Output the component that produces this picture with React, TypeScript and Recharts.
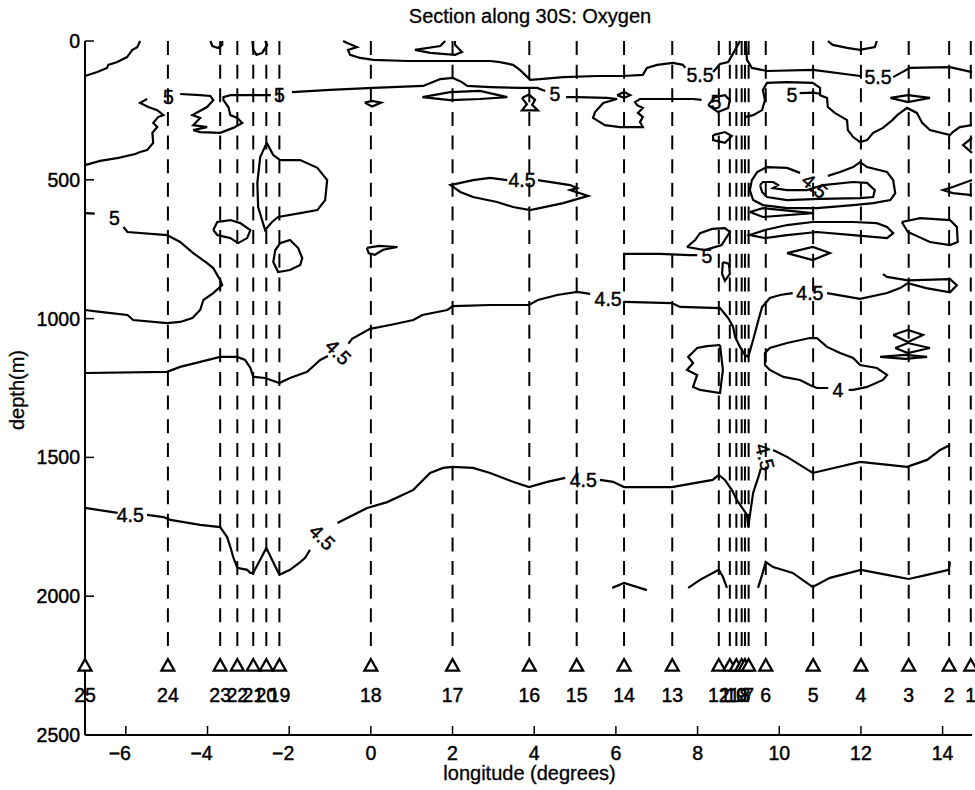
import React from 'react';
import { ComposedChart, Line, Scatter, XAxis, YAxis } from 'recharts';

type P = [number, number];
const FONT = '"Liberation Sans", Arial, Helvetica, sans-serif';

const X_TICKS = [-6, -4, -2, 0, 2, 4, 6, 8, 10, 12, 14];
const Y_TICKS = [0, 500, 1000, 1500, 2000, 2500];
const LON_DOMAIN: [number, number] = [-7, 14.72];
const DEPTH_DOMAIN: [number, number] = [0, 2500];

const stationNumbers = [25, 24, 23, 22, 21, 20, 19, 18, 17, 16, 15, 14, 13, 12, 11, 10, 9, 8, 7, 6, 5, 4, 3, 2, 1];
const stationLons = [-7.0, -4.97, -3.69, -3.27, -2.88, -2.56, -2.24, 0.0, 2.0, 3.88, 5.04, 6.2, 7.38, 8.52, 8.79, 8.95, 9.08, 9.16, 9.25, 9.67, 10.83, 12.0, 13.17, 14.16, 14.69];
const STATION_LINE_TOP = 0;
const STATION_LINE_BOTTOM = 2200;
const TRIANGLE_DEPTH = 2250;
const STATION_LABEL_DEPTH = 2355;

// ---- contour lines (lon, depth) ----
const c55TopLeft: P[] = [[-7.0, 126], [-6.7, 112], [-6.46, 97], [-6.43, 86], [-6.21, 76], [-5.97, 58], [-5.84, 32], [-5.72, 22], [-5.65, 0]];
const c5LeftA: P[] = [[-7.0, 447], [-6.63, 432], [-6.18, 421], [-5.77, 407], [-5.65, 400], [-5.48, 393], [-5.33, 367], [-5.35, 331], [-5.23, 310], [-5.33, 295], [-5.21, 274], [-5.08, 267], [-5.23, 249], [-5.45, 238], [-5.65, 223], [-5.48, 209]];
const c5LeftB: P[] = [[-4.67, 191], [-4.18, 195], [-3.93, 198], [-3.86, 213], [-4.01, 238], [-4.37, 267], [-4.18, 277], [-4.35, 303], [-4.01, 310], [-4.35, 321], [-4.18, 328], [-3.69, 331], [-3.37, 313], [-3.15, 295], [-3.27, 277], [-3.44, 267], [-3.49, 238], [-3.61, 213], [-3.61, 202], [-3.44, 195], [-2.45, 195]];
const c5MidA: P[] = [[-1.93, 184], [-1.0, 176], [0.06, 169], [1.28, 162], [1.52, 148], [1.7, 137], [2.01, 133], [2.23, 148], [2.36, 162], [2.92, 166], [3.65, 169], [4.07, 169], [4.27, 180]];
const c5MidB: P[] = [[4.78, 202], [5.05, 202], [5.78, 205], [6.03, 209], [5.69, 223], [5.49, 256], [5.44, 277], [5.73, 303], [6.1, 310], [6.42, 310], [6.66, 310], [6.59, 292], [6.66, 274], [6.54, 259], [6.66, 241], [6.52, 231], [6.47, 220], [6.59, 209], [7.25, 209], [7.89, 209], [8.1, 212]];
const c5LowLeftA: P[] = [[-7.0, 620], [-6.76, 622]];
const c5LowLeftB: P[] = [[-6.06, 670], [-5.96, 688], [-4.99, 699], [-4.67, 724], [-4.35, 764], [-4.01, 800], [-3.86, 818], [-3.69, 861], [-3.64, 879], [-3.86, 908], [-4.1, 933], [-4.18, 969], [-4.37, 998], [-4.67, 1012], [-4.99, 1016], [-5.82, 1005], [-5.96, 987], [-6.63, 976], [-7.0, 969]];
const blobSt23: P[] = [[-3.86, 681], [-3.76, 652], [-3.44, 645], [-3.2, 656], [-2.95, 681], [-3.03, 710], [-3.25, 728], [-3.44, 710], [-3.76, 699], [-3.86, 681]];
const lensSt20: P[] = [[-2.55, 367], [-2.39, 411], [-2.22, 429], [-1.73, 429], [-1.31, 457], [-1.07, 501], [-1.12, 573], [-1.31, 609], [-1.73, 620], [-2.27, 634], [-2.42, 652], [-2.59, 681], [-2.76, 598], [-2.78, 511], [-2.71, 418], [-2.55, 367]];
const heartSt19: P[] = [[-2.22, 728], [-1.98, 717], [-1.78, 746], [-1.68, 782], [-1.73, 807], [-1.98, 825], [-2.27, 832], [-2.39, 796], [-2.34, 753], [-2.22, 728]];
const smallSt18a: P[] = [[-0.15, 222], [0.03, 216], [0.25, 222], [0.03, 236], [-0.15, 222]];
const smallSt18b: P[] = [[-0.1, 745], [0.2, 738], [0.65, 742], [0.3, 752], [0.1, 770], [-0.05, 765], [-0.1, 745]];
const topLoopSt21: P[] = [[-2.9, 0], [-2.88, 32], [-2.8, 50], [-2.66, 43], [-2.54, 14], [-2.59, 0]];
const topLoopSt23: P[] = [[-3.93, 0], [-3.88, 18], [-3.74, 25], [-3.64, 14], [-3.64, 0]];
const c55A: P[] = [[-0.68, 0], [-0.58, 7], [-0.34, 22], [-0.56, 32], [-0.51, 50], [-0.26, 61], [0.06, 68], [0.89, 72], [1.7, 72], [2.5, 72], [2.92, 72], [3.16, 76], [3.48, 86], [3.65, 104], [3.9, 140], [4.14, 137], [4.71, 130], [5.54, 126], [6.17, 126], [6.66, 122], [6.76, 97], [7.01, 86], [7.4, 79], [7.64, 86], [7.7, 97]];
const c55A2: P[] = [[8.38, 112], [8.55, 83], [8.75, 76], [8.92, 32], [9.04, 0]];
const c55B1: P[] = [[9.18, 0], [9.21, 68], [9.33, 97], [9.7, 108], [10.83, 104], [11.98, 126]];
const c55B2: P[] = [[12.79, 130], [13.01, 112], [13.2, 97], [14.18, 94], [14.72, 112]];
const topLoopSt17: P[] = [[1.82, 0], [1.7, 18], [1.08, 32], [1.45, 43], [2.06, 50], [2.23, 40], [2.06, 14], [2.06, 0]];
const topLoopSt4: P[] = [[11.19, 0], [11.31, 14], [11.66, 25], [11.97, 32], [12.34, 22], [12.39, 0]];
const lensSt17: P[] = [[1.26, 202], [1.94, 184], [2.67, 180], [3.34, 202], [2.67, 209], [1.94, 213], [1.26, 202]];
const smallSt16: P[] = [[3.7, 205], [3.87, 193], [4.02, 212], [3.95, 230], [4.09, 250], [3.7, 250], [3.82, 228], [3.7, 205]];
const smallSt14: P[] = [[6.03, 195], [6.2, 184], [6.35, 195], [6.2, 205], [6.03, 195]];
const lens45: P[] = [[4.09, 501], [4.88, 519], [5.05, 530], [4.88, 537], [5.32, 558], [4.71, 584], [3.9, 609], [3.48, 598], [3.09, 580], [2.5, 562], [2.19, 544], [1.95, 519], [2.5, 501], [2.92, 493], [3.34, 501]];
const c5At255: P[] = [[6.2, 825], [6.2, 767], [7.08, 767], [7.81, 771], [7.99, 771]];
const waveSt12: P[] = [[7.74, 742], [7.94, 717], [8.06, 692], [8.36, 677], [8.67, 674], [8.79, 688], [8.59, 735], [8.18, 753], [7.74, 742]];
const zigSt12: P[] = [[8.55, 1095], [8.23, 1099], [7.99, 1106], [7.77, 1138], [7.89, 1160], [7.74, 1185], [7.99, 1203], [7.89, 1246], [8.06, 1257], [8.55, 1268], [8.62, 1185], [8.55, 1095]];
const c45UpA: P[] = [[-7.0, 1196], [-4.99, 1192], [-4.67, 1174], [-4.18, 1156], [-3.69, 1138], [-3.27, 1138], [-3.08, 1149], [-2.95, 1178], [-2.88, 1210], [-2.59, 1214], [-2.24, 1232], [-1.98, 1214], [-1.56, 1192], [-1.24, 1149], [-1.05, 1135]];
const c45UpB: P[] = [[-0.55, 1090], [-0.46, 1073], [-0.02, 1037], [0.47, 1023], [1.04, 1005], [1.26, 987], [1.87, 969], [2.01, 955], [2.92, 951], [3.87, 951], [4.09, 933], [4.56, 915], [5.05, 904], [5.37, 911]];
const c45UpC: P[] = [[6.2, 940], [7.37, 944], [7.57, 958], [8.55, 962], [8.75, 998], [8.87, 1030], [8.92, 1066], [9.04, 1102], [9.16, 1131], [9.24, 1138], [9.36, 1077], [9.49, 1005], [9.58, 958], [9.77, 926], [10.02, 915], [10.33, 908]];
const c45UpD: P[] = [[11.17, 908], [11.98, 929], [12.64, 908], [12.96, 890], [13.15, 872], [13.6, 890], [14.18, 905], [14.35, 880], [14.18, 858], [13.15, 862], [12.64, 850], [12.54, 840]];
const c45LowA: P[] = [[-7.0, 1682], [-6.2, 1700]];
const c45LowB: P[] = [[-5.48, 1707], [-5.08, 1715], [-4.91, 1725], [-4.18, 1743], [-3.69, 1751], [-3.52, 1787], [-3.44, 1823], [-3.37, 1859], [-3.27, 1898], [-3.03, 1905], [-2.95, 1916], [-2.88, 1916], [-2.71, 1869], [-2.56, 1826], [-2.42, 1869], [-2.24, 1923], [-1.98, 1905], [-1.73, 1877], [-1.61, 1862], [-1.49, 1833]];
const c45LowC: P[] = [[-0.82, 1736], [-0.09, 1682], [0.4, 1661], [1.04, 1617], [1.45, 1556], [1.77, 1538], [2.01, 1534], [2.5, 1538], [2.92, 1556], [3.48, 1588], [3.87, 1607], [4.32, 1588], [4.76, 1574]];
const c45LowD: P[] = [[5.61, 1581], [5.93, 1588], [6.2, 1607], [7.37, 1607], [8.37, 1581], [8.52, 1563], [8.67, 1581], [8.79, 1607], [8.84, 1617], [8.96, 1653], [9.21, 1707], [9.24, 1751], [9.36, 1628], [9.49, 1570], [9.55, 1540]];
const c45LowE: P[] = [[9.85, 1473], [10.19, 1498], [10.82, 1556], [11.98, 1516], [13.13, 1534], [13.62, 1509], [13.94, 1473], [14.18, 1455]];
const deepSt14: P[] = [[5.91, 1970], [6.2, 1952], [6.76, 1978]];
const deepSt12: P[] = [[7.77, 1970], [8.06, 1941], [8.52, 1905], [8.62, 1930], [8.72, 1970]];
const deepEast: P[] = [[9.48, 1970], [9.58, 1923], [9.67, 1877], [9.85, 1895], [10.33, 1916], [10.82, 1967], [11.24, 1934], [12.0, 1905], [12.64, 1923], [13.17, 1938], [13.62, 1923], [14.15, 1905], [14.18, 1877]];
const loop4: P[] = [[11.2, 1250], [10.92, 1250], [10.75, 1239], [10.51, 1221], [10.1, 1210], [9.77, 1185], [9.65, 1167], [9.65, 1124], [9.77, 1106], [10.19, 1088], [10.75, 1070], [10.92, 1070], [11.17, 1102], [11.49, 1124], [11.81, 1142], [11.98, 1167], [12.39, 1178], [12.64, 1203], [12.54, 1221], [12.15, 1246], [11.81, 1257], [11.7, 1257]];
const hg1: P[] = [[12.79, 1059], [13.15, 1041], [13.52, 1059], [13.15, 1084], [12.79, 1059]];
const hg2: P[] = [[12.84, 1106], [13.15, 1088], [13.69, 1106], [13.15, 1124], [12.84, 1106]];
const hg3: P[] = [[12.47, 1138], [13.08, 1131], [13.62, 1138], [13.08, 1145], [12.47, 1138]];
const outerEast: P[] = [[11.19, 486], [11.49, 472], [11.81, 454], [11.98, 436], [12.15, 454], [12.64, 472], [12.79, 501], [12.84, 548], [12.72, 573], [12.3, 584], [11.81, 591], [10.92, 602], [10.19, 602], [9.6, 591], [9.36, 573], [9.28, 537], [9.33, 501], [9.46, 472], [9.7, 454], [10.19, 457], [10.51, 475]];
const innerEast: P[] = [[9.53, 519], [9.6, 508], [9.85, 508], [9.97, 519], [9.85, 530], [10.19, 537], [10.68, 537], [11.07, 519], [11.81, 508], [12.15, 511], [12.34, 537], [12.3, 562], [11.98, 566], [11.0, 569], [10.19, 573], [9.7, 562], [9.58, 544], [9.53, 519]];
const lensE1: P[] = [[9.28, 616], [9.6, 602], [10.82, 620], [9.6, 634], [9.28, 616]];
const lensE2: P[] = [[9.65, 681], [10.19, 663], [10.82, 652], [11.81, 652], [12.39, 656], [12.64, 670], [12.79, 692], [12.64, 710], [11.81, 699], [10.92, 688], [10.19, 699], [9.65, 710], [9.28, 699], [9.65, 681]];
const lensSt5: P[] = [[10.19, 764], [10.82, 742], [11.24, 764], [10.82, 789], [10.19, 764]];
const loopSt2: P[] = [[13.0, 652], [13.45, 638], [14.18, 645], [14.35, 670], [14.37, 724], [14.18, 735], [13.69, 724], [13.15, 688], [13.0, 652]];
const rightEdgeA: P[] = [[14.72, 349], [14.5, 375], [14.72, 403]];
const rightEdgeB: P[] = [[14.72, 501], [14.25, 526], [14.01, 537], [14.25, 548], [14.72, 555]];
const c5East: P[] = [[9.16, 274], [9.36, 267], [9.58, 249], [9.65, 213], [9.6, 176], [9.7, 151], [10.19, 148], [10.82, 151], [11.0, 169], [11.0, 195], [11.17, 205], [11.19, 238], [11.36, 259], [11.66, 285], [11.68, 321], [11.81, 346], [11.98, 364], [12.15, 357], [12.3, 331], [12.54, 313], [12.77, 285], [12.89, 267], [13.13, 241], [13.37, 259], [13.5, 295], [13.69, 321], [14.18, 339], [14.25, 328], [14.42, 310], [14.72, 303]];
const c5EastStub: P[] = [[10.5, 188], [10.83, 186], [11.0, 190]];
const lensSt3: P[] = [[12.72, 205], [13.15, 195], [13.69, 205], [13.15, 220], [12.72, 205]];
const messA: P[] = [[8.26, 231], [8.43, 202], [8.67, 195], [8.79, 213], [8.75, 241], [8.5, 256], [8.26, 231]];
const messB: P[] = [[8.38, 339], [8.67, 328], [8.84, 342], [8.67, 367], [8.38, 357], [8.38, 339]];
const messC: P[] = [[8.62, 796], [8.77, 803], [8.79, 839], [8.67, 864], [8.6, 839], [8.62, 796]];

const contours: P[][] = [
  c55TopLeft, c5LeftA, c5LeftB, c5MidA, c5MidB, c5LowLeftA, c5LowLeftB, blobSt23, lensSt20, heartSt19,
  smallSt18a, smallSt18b, topLoopSt21, topLoopSt23, c55A, c55A2, c55B1, c55B2, topLoopSt17, topLoopSt4,
  lensSt17, smallSt16, smallSt14, lens45, c5At255, waveSt12, zigSt12, c45UpA, c45UpB, c45UpC, c45UpD,
  c45LowA, c45LowB, c45LowC, c45LowD, c45LowE, deepSt14, deepSt12, deepEast, loop4, hg1, hg2, hg3,
  outerEast, innerEast, lensE1, lensE2, lensSt5, loopSt2, rightEdgeA, rightEdgeB, c5East, c5EastStub,
  lensSt3, messA, messB, messC,
];

// contour labels: lon, depth, text, rotation
const labelLons = [-4.96, -2.24, 4.51, 8.06, 12.42, 10.31, -6.28, 3.7, 10.87, 8.23, -0.8, 5.81, 10.75, 11.44, -5.89, -1.19, 5.2, 9.65, 8.45];
const labelDepths = [202, 194, 191, 122, 130, 195, 638, 501, 522, 774, 1120, 929, 908, 1257, 1707, 1787, 1581, 1498, 218];
const labelTexts = ['5', '5', '5', '5.5', '5.5', '5', '5', '4.5', '4.5', '5', '4.5', '4.5', '4.5', '4', '4.5', '4.5', '4.5', '4.5', '5'];
const labelAngles = [0, 0, 0, 0, 0, 0, 0, 0, 40, 0, 45, 0, 0, 0, 0, 45, 0, 75, 0];

const toPts = (c: P[]) => c.map(([lon, depth]) => ({ lon, depth }));
const contourData = contours.map(toPts);
const stationLineData = stationLons.map((lon) => [
  { lon, depth: STATION_LINE_TOP },
  { lon, depth: STATION_LINE_BOTTOM },
]);
const triangleData = stationLons.map((lon) => ({ lon, depth: TRIANGLE_DEPTH }));
const stationLabelData = stationLons.map((lon, i) => ({ lon, depth: STATION_LABEL_DEPTH, label: String(stationNumbers[i]) }));
const contourLabelData = labelLons.map((lon, i) => ({ lon, depth: labelDepths[i], label: labelTexts[i], angle: labelAngles[i] }));

const TICK_LEN = 9;
const FS = 19.5;
const TXT = { fontFamily: FONT, fill: '#000', stroke: '#000', strokeWidth: 0.45 };

const BottomTick = (p: any) => {
  const v = p.payload.value as number;
  const text = v < 0 ? '\u2212' + Math.abs(v) : String(v);
  return (
    <g>
      <line x1={p.x} x2={p.x} y1={p.y} y2={p.y - TICK_LEN} stroke="#000" strokeWidth={1.5} />
      <text x={v < 0 ? p.x - 6 : p.x} y={p.y + 18} textAnchor="middle" dominantBaseline="central" fontSize={FS} {...TXT}>{text}</text>
    </g>
  );
};
const TopTick = (p: any) => (
  <line x1={p.x} x2={p.x} y1={p.y} y2={p.y + TICK_LEN} stroke="#000" strokeWidth={1.5} />
);
const LeftTick = (p: any) => (
  <g>
    <line x1={p.x} x2={p.x + TICK_LEN} y1={p.y} y2={p.y} stroke="#000" strokeWidth={1.5} />
    <text x={p.x - 5} y={p.y} textAnchor="end" dominantBaseline="central" fontSize={FS} {...TXT}>{p.payload.value}</text>
  </g>
);
const RightTick = (p: any) => (
  <line x1={p.x} x2={p.x - TICK_LEN} y1={p.y} y2={p.y} stroke="#000" strokeWidth={1.5} />
);

const TriangleShape = (p: any) => {
  const { cx, cy } = p;
  return <path d={`M${cx},${cy - 6.5} L${cx + 6.5},${cy + 5} L${cx - 6.5},${cy + 5} Z`} fill="#fff" stroke="#000" strokeWidth={2.2} />;
};
const TextShape = (p: any) => {
  const { cx, cy, payload } = p;
  const angle = payload.angle || 0;
  return (
    <text x={cx} y={cy} textAnchor="middle" dominantBaseline="central" fontSize={FS} {...TXT}
      transform={angle ? `rotate(${angle} ${cx} ${cy})` : undefined}>{payload.label}</text>
  );
};

export default function App() {
  return (
    <div style={{ position: 'absolute', left: 0, top: 0, width: 975, height: 790, background: '#fff' }}>
      <ComposedChart width={975} height={790} margin={{ top: 41, right: 3, bottom: 0, left: 0 }}>
        <XAxis xAxisId="b" dataKey="lon" type="number" domain={LON_DOMAIN} ticks={X_TICKS} interval={0}
          height={55} tickSize={0} tickMargin={0} tickLine={false} axisLine={{ stroke: '#000', strokeWidth: 2 }} tick={<BottomTick />} />
        <XAxis xAxisId="t" orientation="top" dataKey="lon" type="number" domain={LON_DOMAIN} ticks={X_TICKS} interval={0}
          height={0} tickSize={0} tickMargin={0} tickLine={false} axisLine={{ stroke: '#000', strokeWidth: 2 }} tick={<TopTick />} />
        <YAxis yAxisId="l" dataKey="depth" type="number" reversed domain={DEPTH_DOMAIN} ticks={Y_TICKS} interval={0}
          width={85} tickSize={0} tickMargin={0} tickLine={false} axisLine={{ stroke: '#000', strokeWidth: 2 }} tick={<LeftTick />} />
        <YAxis yAxisId="r" orientation="right" dataKey="depth" type="number" reversed domain={DEPTH_DOMAIN} ticks={Y_TICKS} interval={0}
          width={0} tickSize={0} tickMargin={0} tickLine={false} axisLine={{ stroke: '#000', strokeWidth: 2 }} tick={<RightTick />} />
        {stationLineData.map((d, i) => (
          <Line key={'s' + i} data={d} dataKey="depth" xAxisId="b" yAxisId="l" type="linear" stroke="#000" strokeWidth={2}
            strokeDasharray="14 9.64" dot={false} activeDot={false} isAnimationActive={false} legendType="none" />
        ))}
        {contourData.map((d, i) => (
          <Line key={'c' + i} data={d} dataKey="depth" xAxisId="b" yAxisId="l" type="linear" stroke="#000" strokeWidth={2.2}
            dot={false} activeDot={false} isAnimationActive={false} legendType="none" />
        ))}
        <Scatter data={triangleData} xAxisId="b" yAxisId="l" shape={<TriangleShape />} isAnimationActive={false} legendType="none" />
        <Scatter data={stationLabelData} xAxisId="b" yAxisId="l" shape={<TextShape />} isAnimationActive={false} legendType="none" />
        <Scatter data={contourLabelData} xAxisId="b" yAxisId="l" shape={<TextShape />} isAnimationActive={false} legendType="none" />
      </ComposedChart>
      <svg width={975} height={790} style={{ position: 'absolute', left: 0, top: 0, pointerEvents: 'none' }}>
        <text x={530} y={23} textAnchor="middle" fontSize={20} {...TXT} strokeWidth={0.3}>Section along 30S: Oxygen</text>
        <text x={529.5} y={780} textAnchor="middle" fontSize={20} {...TXT} strokeWidth={0.3}>longitude (degrees)</text>
        <text transform="translate(24,390) rotate(-90)" x={0} y={0} textAnchor="middle" fontSize={20} {...TXT} strokeWidth={0.3}>depth(m)</text>
      </svg>
    </div>
  );
}
